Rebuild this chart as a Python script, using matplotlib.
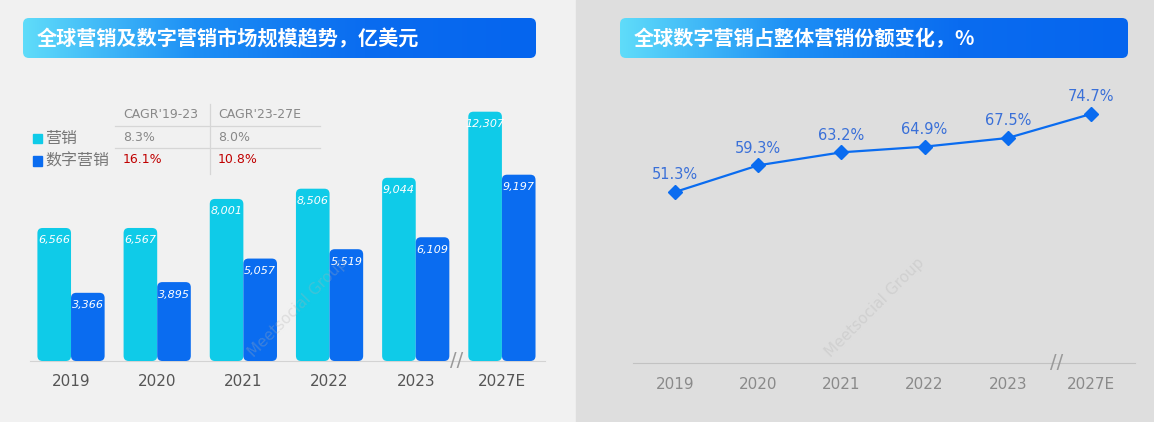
import matplotlib
matplotlib.use("Agg")
import matplotlib.pyplot as plt
import numpy as np
from matplotlib.colors import LinearSegmentedColormap
from matplotlib.patches import FancyBboxPatch, Rectangle

plt.rcParams["font.family"] = ["Noto Sans CJK SC", "DejaVu Sans"]

# ---------------------------------------------------------------------------
# Data
# ---------------------------------------------------------------------------
years = ["2019", "2020", "2021", "2022", "2023", "2027E"]
marketing = [6566, 6567, 8001, 8506, 9044, 12307]
digital = [3366, 3895, 5057, 5519, 6109, 9197]
digital_share = [51.3, 59.3, 63.2, 64.9, 67.5, 74.7]

series_names = ["营销", "数字营销"]
cagr_headers = ["CAGR'19-23", "CAGR'23-27E"]
cagr_marketing = ["8.3%", "8.0%"]
cagr_digital = ["16.1%", "10.8%"]

left_title = "全球营销及数字营销市场规模趋势，亿美元"
right_title = "全球数字营销占整体营销份额变化，%"

CYAN = "#0fcbe8"
BLUE = "#0a6cf0"
RED = "#c00000"

W, H = 1154, 422
fig = plt.figure(figsize=(W / 100, H / 100), dpi=100)


def fx(px):
    return px / W


def fy(py):
    return 1 - py / H


# panel backgrounds
fig.patches.append(Rectangle((0, 0), fx(576), 1, transform=fig.transFigure,
                             color="#f1f1f1", zorder=-10))
fig.patches.append(Rectangle((fx(576), 0), 1 - fx(576), 1, transform=fig.transFigure,
                             color="#dedede", zorder=-10))

grad = LinearSegmentedColormap.from_list("banner", ["#5fdcfa", "#1d8ff5", "#0a6cf0", "#0565ee"])


def banner(x0, x1, y0, y1, text):
    w, h = x1 - x0, y1 - y0
    bax = fig.add_axes([fx(x0), fy(y1), fx(w), h / H])
    bax.set_xlim(0, w)
    bax.set_ylim(0, h)
    bax.axis("off")
    img = bax.imshow(np.linspace(0, 1, 256)[None, :], cmap=grad, aspect="auto",
                     extent=(0, w, 0, h))
    clip = FancyBboxPatch((0, 0), w, h, boxstyle="round,pad=0,rounding_size=6",
                          transform=bax.transData, facecolor="none", edgecolor="none")
    bax.add_patch(clip)
    img.set_clip_path(clip)
    fig.text(fx(x0 + 14), fy((y0 + y1) / 2 + 1), text, color="white", fontsize=14.5,
             fontweight="bold", va="center", ha="left")


banner(23, 536, 18, 58, left_title)
banner(620, 1128, 18, 58, right_title)

# ---------------------------------------------------------------------------
# Left: bar chart
# ---------------------------------------------------------------------------
ax1_w, ax1_h = 515, 283.6
ax1 = fig.add_axes([fx(30), fy(361), fx(ax1_w), ax1_h / H])
ax1.set_facecolor("none")
ax1.set_xlim(-0.476, 5.5)
ax1.set_ylim(0, 14000)
x = np.arange(len(years))
bw = 0.39
b1 = ax1.bar(x - bw / 2, marketing, bw, color=CYAN, zorder=2)
b2 = ax1.bar(x + bw / 2, digital, bw, color=BLUE, zorder=2)

# swap plain rectangles for rounded ones
px_per_x = ax1_w / (5.5 + 0.476)
px_per_y = ax1_h / 14000
for bars in (b1, b2):
    for rect in bars:
        rect.set_visible(False)
        ax1.add_patch(FancyBboxPatch(
            (rect.get_x(), rect.get_y()), rect.get_width(), rect.get_height(),
            boxstyle="round,pad=0,rounding_size=0.06",
            mutation_aspect=px_per_x / px_per_y,
            facecolor=rect.get_facecolor(), edgecolor="none", zorder=2))

for bars, vals in ((b1, marketing), (b2, digital)):
    for rect, v in zip(bars, vals):
        ax1.annotate(f"{v:,}", (rect.get_x() + rect.get_width() / 2, v),
                     xytext=(0, -9), textcoords="offset points", ha="center", va="center",
                     color="white", fontsize=8, style="italic", family="DejaVu Sans")
for s in ("top", "right", "left"):
    ax1.spines[s].set_visible(False)
ax1.spines["bottom"].set_color("#d3d3d3")
ax1.spines["bottom"].set_zorder(1)
ax1.set_yticks([])
ax1.set_xticks(x)
ax1.set_xticklabels(years, color="#555555", fontsize=11, family="DejaVu Sans")
ax1.tick_params(axis="x", length=0, pad=9)
ax1.text(4.48, 0, "//", ha="center", va="center", color="#999999", fontsize=14,
         zorder=3, family="DejaVu Sans")

# CAGR table
fig.lines.append(plt.Line2D([fx(115), fx(320)], [fy(126), fy(126)],
                            transform=fig.transFigure, color="#d6d6d6", lw=0.9))
fig.lines.append(plt.Line2D([fx(115), fx(320)], [fy(148), fy(148)],
                            transform=fig.transFigure, color="#d6d6d6", lw=0.9))
fig.lines.append(plt.Line2D([fx(210), fx(210)], [fy(104), fy(174)],
                            transform=fig.transFigure, color="#d6d6d6", lw=0.9))
col_x = [123, 218]
for cx, hdr in zip(col_x, cagr_headers):
    fig.text(fx(cx), fy(114), hdr, color="#888888", fontsize=9, va="center",
             family="DejaVu Sans")
for cx, v in zip(col_x, cagr_marketing):
    fig.text(fx(cx), fy(137), v, color="#888888", fontsize=9, va="center",
             family="DejaVu Sans")
for cx, v in zip(col_x, cagr_digital):
    fig.text(fx(cx), fy(160), v, color=RED, fontsize=9, va="center",
             family="DejaVu Sans")
for py, name, col in ((138, series_names[0], CYAN), (161, series_names[1], BLUE)):
    fig.patches.append(Rectangle((fx(33), fy(py + 4.5)), fx(9), 9 / H,
                                 transform=fig.transFigure, color=col))
    fig.text(fx(45), fy(py), name, color="#777777", fontsize=11.5, va="center")

# ---------------------------------------------------------------------------
# Right: line chart
# ---------------------------------------------------------------------------
ax2 = fig.add_axes([fx(633), fy(363), fx(502), 300 / H])
ax2.set_facecolor("none")
ax2.plot(x, digital_share, color=BLUE, lw=1.6, marker="D", ms=7.5, zorder=3)
for xi, v in zip(x, digital_share):
    ax2.annotate(f"{v:.1f}%", (xi, v), xytext=(0, 7), textcoords="offset points",
                 ha="center", va="bottom", color="#3a70d8", fontsize=10.5,
                 family="DejaVu Sans")
ax2.set_xlim(-0.505, 5.53)
ax2.set_ylim(0, 90)
for s in ("top", "right", "left"):
    ax2.spines[s].set_visible(False)
ax2.spines["bottom"].set_color("#c2c2c2")
ax2.set_yticks([])
ax2.set_xticks(x)
ax2.set_xticklabels(years, color="#8a8a8a", fontsize=11, family="DejaVu Sans")
ax2.tick_params(axis="x", length=0, pad=10)
ax2.text(4.59, 0, "//", ha="center", va="center", color="#999999", fontsize=14,
         zorder=3, family="DejaVu Sans")

# faint watermarks
for wx in (298, 875):
    fig.text(fx(wx), fy(308), "Meetsocial Group", rotation=45, color="#b0b0b0",
             alpha=0.3, fontsize=11, ha="center", va="center", family="DejaVu Sans")

fig.savefig("out.png", dpi=100)
